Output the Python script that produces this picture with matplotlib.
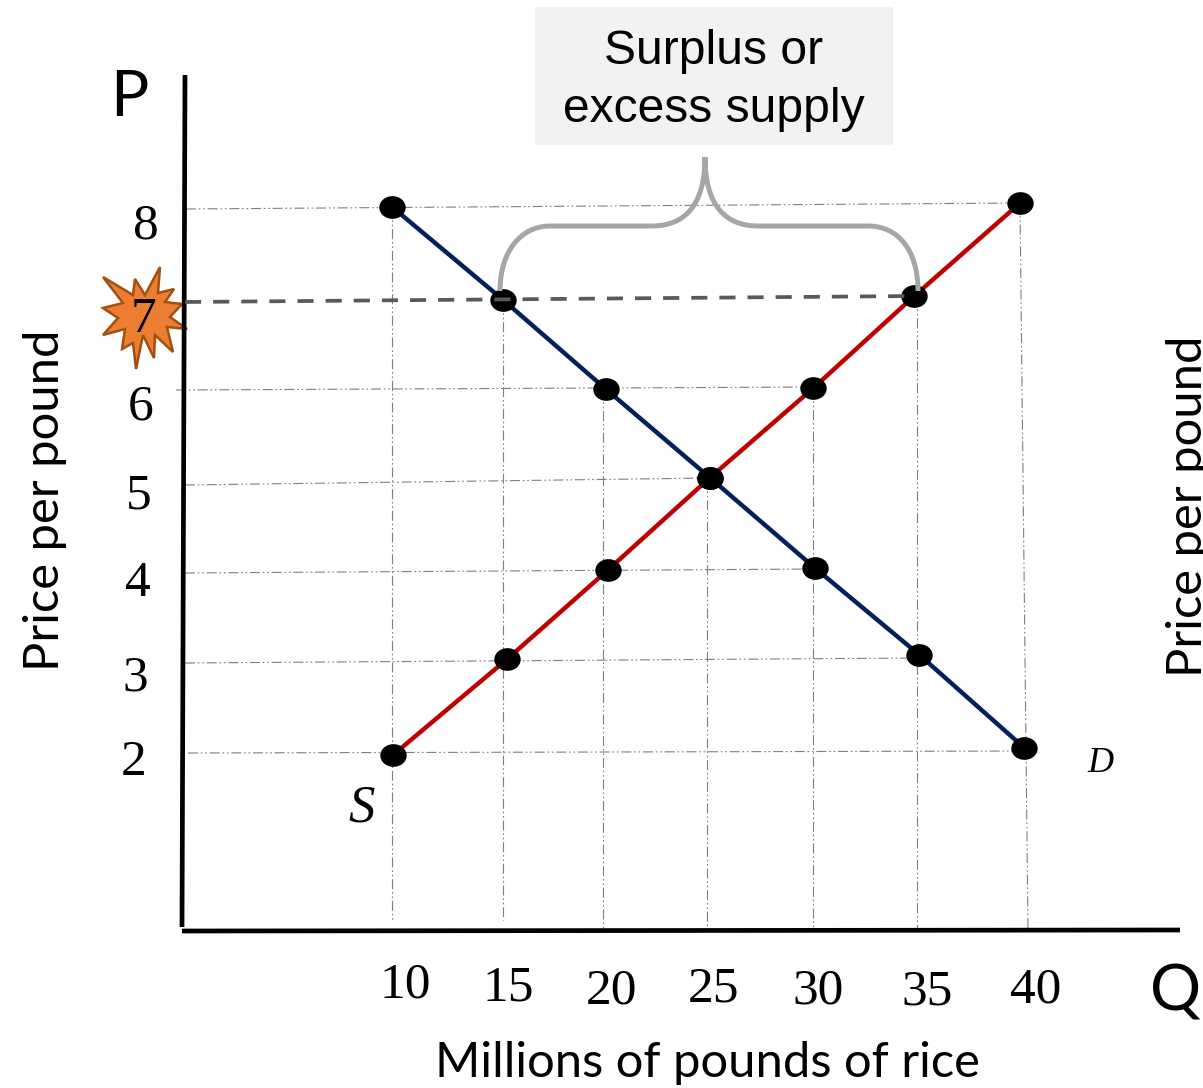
"""Supply and demand for rice at a price of 7 -> surplus."""
import matplotlib
matplotlib.use("Agg")
import matplotlib.pyplot as plt
from matplotlib.patches import PathPatch, Polygon, Rectangle
from matplotlib.path import Path
from matplotlib.transforms import Affine2D

W, H = 1203, 1088

# values (it is a hand drawn slide, so they wobble a bit)
demand_q = [10.0, 15.29, 20.19, 25.14, 30.14, 35.10, 40.10]
demand_p = [7.98, 6.96, 5.98, 5.01, 4.02, 3.07, 2.05]
supply_q = [10.05, 15.48, 20.29, 25.14, 30.05, 34.86, 39.90]
supply_p = [1.97, 3.02, 4.00, 5.01, 5.99, 7.00, 8.02]

price_labels = ["8", "7", "6", "5", "4", "3", "2"]
price_label_pos = [(146, 226), (143, 320), (141, 407), (139, 496), (138, 584), (135, 678), (134, 763)]
qty_labels = ["10", "15", "20", "25", "30", "35", "40"]
qty_label_pos = [(405, 985), (508, 988), (611, 991), (714, 989), (818, 991), (927, 992), (1036, 990)]

# guide lines, pixel end points on the slide
h_guides = [((186, 209), (1020, 203)), ((176, 390), (813, 387)), ((185, 485), (710, 478)),
            ((185, 573), (815, 569)), ((185, 663), (918, 658)), ((188, 753), (1022, 751))]
v_guides = [((392, 207), (392, 920)), ((503, 300), (503, 920)), ((603, 389), (603, 930)),
            ((707, 478), (707, 930)), ((813, 388), (813, 930)), ((917, 296), (917, 930)),
            ((1020, 203), (1028, 930))]

RED = "#C00000"
NAVY = "#002060"
SERIF = "Liberation Serif"
CALIBRI = "Lato"

fig = plt.figure(figsize=(W / 100, H / 100), dpi=100)
ax = fig.add_axes([0, 0, 1, 1])
ax.set_xlim(-8.667, 48.62)
ax.set_ylim(-1.682, 10.248)
ax.axis("off")

# pixel coordinates, origin top left like the slide
px = Affine2D().scale(1, -1).translate(0, H)


def seg(a, b, **kw):
    ax.plot([a[0], b[0]], [a[1], b[1]], transform=px, solid_capstyle="butt", **kw)


guide_ls = (0, (9, 2.5, 1.5, 2.5, 1.5, 2.5))
for a, b in h_guides + v_guides:
    seg(a, b, color="#7F7F7F", lw=0.8, ls=guide_ls, zorder=1)

seg((185, 75), (182, 927), color="black", lw=3.4, zorder=2)
seg((182, 931), (1180, 930), color="black", lw=3.4, zorder=2)

ax.plot(demand_q, demand_p, color=NAVY, lw=3.2, zorder=3)
ax.plot(supply_q, supply_p, color=RED, lw=3.2, zorder=3)

# slightly flattened dots
dot = Path.unit_circle().transformed(Affine2D().scale(1.0, 0.86))
ax.plot(demand_q, demand_p, ls="", marker=dot, ms=19, color="black", mew=0, zorder=4)
ax.plot(supply_q, supply_p, ls="", marker=dot, ms=19, color="black", mew=0, zorder=4)

# orange burst behind the 7
burst = [(103, 277), (133, 295), (135, 279), (145, 295), (160, 267), (158, 293), (174, 289),
         (165, 302), (182, 304), (170, 317), (187, 329), (167, 327), (173, 352), (155, 335),
         (154, 358), (143, 335), (136, 369), (133, 343), (122, 349), (125, 329), (103, 335),
         (118, 318), (103, 308), (123, 303)]
ax.add_patch(Polygon(burst, closed=True, fc="#ED7D31", ec="#A14F12", lw=1.8,
                     transform=px, zorder=1.5))

seg((185, 302), (914, 296), color="#595959", lw=2.7, ls=(0, (4.3, 3.2)), zorder=6)

# surplus box and brace
ax.add_patch(Rectangle((535, 7), 358, 138, fc="#F2F2F2", ec="none", transform=px, zorder=2))
brace = Path(
    [(500, 291), (500, 250), (522, 226), (550, 226), (652, 226), (685, 226), (705, 205), (705, 157),
     (705, 205), (725, 226), (758, 226), (868, 226), (898, 226), (918, 250), (918, 291)],
    [Path.MOVETO, Path.CURVE4, Path.CURVE4, Path.CURVE4, Path.LINETO, Path.CURVE4, Path.CURVE4, Path.CURVE4,
     Path.CURVE4, Path.CURVE4, Path.CURVE4, Path.LINETO, Path.CURVE4, Path.CURVE4, Path.CURVE4],
)
ax.add_patch(PathPatch(brace, fc="none", ec="#A6A6A6", lw=3.6, transform=px, zorder=7, capstyle="butt"))


def label(x, y, s, size, family, **kw):
    ax.text(x, y, s, transform=px, fontsize=size, family=family, ha="center", va="center",
            color="black", zorder=8, **kw)


label(714, 52, "Surplus or", 34.6, "Liberation Sans")
label(714, 110, "excess supply", 34.6, "Liberation Sans")

for s, (x, y) in zip(price_labels + qty_labels, price_label_pos + qty_label_pos):
    label(x, y, s, 37, SERIF)

label(129, 98, "P", 46, CALIBRI)
label(1176, 992, "Q", 46, CALIBRI)
label(707, 1063, "Millions of pounds of rice", 35.2, CALIBRI)
label(45, 500, "Price per pound", 35.2, CALIBRI, rotation=90)
label(1188, 506, "Price per pound", 35.2, CALIBRI, rotation=90)
label(362, 809, "S", 38, SERIF, style="italic")
label(1100, 763, "D", 26, SERIF, style="italic")

fig.savefig("out.png", dpi=100)
